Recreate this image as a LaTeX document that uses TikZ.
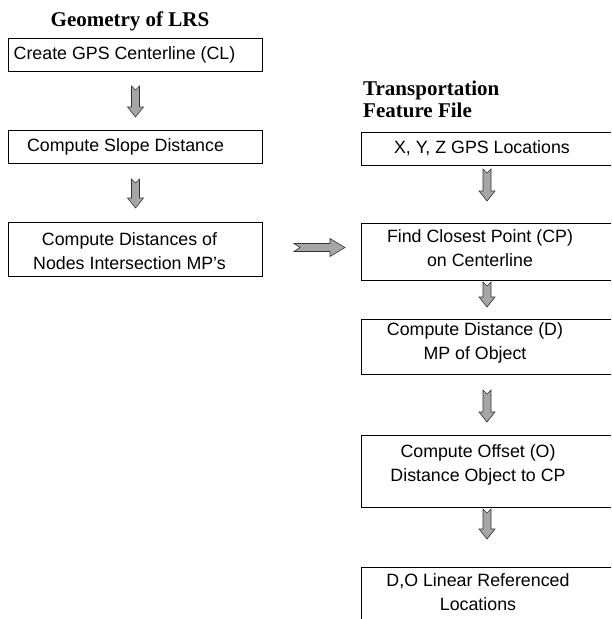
\documentclass[tikz,border=0pt]{standalone}
\usepackage{fontspec}
\setmainfont{Liberation Serif}
\setsansfont{Liberation Sans}
\usetikzlibrary{calc}

% 灰色粗箭头(竖直):从 #1 向下到 #2
\newcommand{\downarr}[2]{%
  \filldraw[blockarr] let \p1=(#1), \p2=(#2) in
    (\x1-4pt,\y1) -- (\x1,\y1-4pt) -- (\x1+4pt,\y1) -- (\x1+4pt,\y2+10pt)
    -- (\x1+8pt,\y2+10pt) -- (\x1,\y2) -- (\x1-8pt,\y2+10pt)
    -- (\x1-4pt,\y2+10pt) -- cycle;
}
% 灰色粗箭头(水平):从 #1 向右到 #2
\newcommand{\rightarr}[2]{%
  \filldraw[blockarr] let \p1=(#1), \p2=(#2) in
    (\x1,\y1+4pt) -- (\x2-15pt,\y1+4pt) -- (\x2-15pt,\y1+9pt) -- (\x2,\y1)
    -- (\x2-15pt,\y1-9pt) -- (\x2-15pt,\y1-4pt) -- (\x1,\y1-4pt)
    -- (\x1+6pt,\y1) -- cycle;
}

\tikzset{
  box/.style={draw, line width=1pt, inner sep=0pt, anchor=north west},
  lbox/.style={box, minimum width=254pt},
  rbox/.style={box, minimum width=280pt},
  txt/.style={font=\sffamily\fontsize{17.8}{24}\selectfont, align=center, inner sep=0pt},
  ttl/.style={font=\bfseries\fontsize{21}{22}\selectfont, align=left, inner sep=0pt},
  blockarr/.style={draw=black!80, line width=0.6pt, fill=black!35}
}

\begin{document}
\begin{tikzpicture}[x=1pt, y=-1pt]  % 以像素为单位,y 向下

    \useasboundingbox (0,0) rectangle (611,619);
    \clip (0,0) rectangle (611,619);

    % 标题
    \node[ttl, anchor=base] (geo) at (130,26) {Geometry of LRS};
    \node[ttl, anchor=north west] (tff) at (363,81) {Transportation\\Feature File};

    % 左列方框
    \node[lbox, minimum height=33pt] (b1) at (8,38) {};
    \node[lbox, minimum height=33pt] (b2) at (8,130) {};
    \node[lbox, minimum height=54pt] (b3) at (8,222) {};

    \node[txt] (t1) at ($(b1.center)+(-11,0)$) {Create GPS Centerline (CL)};
    \node[txt] (t2) at ($(b2.center)+(-10,0)$) {Compute Slope Distance};
    \node[txt] (t3) at ($(b3.center)+(-6,2)$) {Compute Distances of\\Nodes Intersection MP’s};

    % 右列方框(右边超出画面)
    \node[rbox, minimum height=33pt] (r1) at (361,132) {};
    \node[rbox, minimum height=57pt] (r2) at (361,223) {};
    \node[rbox, minimum height=55pt] (r3) at (361,319) {};
    \node[rbox, minimum height=72pt] (r4) at (361,435) {};
    \node[rbox, minimum height=80pt] (r5) at (361,567) {};

    \node[txt] (s1) at ($(r1.north west)+(121,16)$) {X, Y, Z GPS Locations};
    \node[txt] (s2) at ($(r2.north west)+(119,25)$) {Find Closest Point (CP)\\on Centerline};
    \node[txt] (s3) at ($(r3.north west)+(114,24)$) {Compute Distance (D)\\MP of Object};
    \node[txt] (s4) at ($(r4.north west)+(117,30)$) {Compute Offset (O)\\Distance Object to CP};
    \node[txt] (s5) at ($(r5.north west)+(117,25)$) {D,O Linear Referenced\\Locations};

    % 箭头
    \downarr{$(b1.south)+(0,14)$}{$(b2.north)+(0,-13)$}
    \downarr{$(b2.south)+(0,15)$}{$(b3.north)+(0,-14)$}
    \rightarr{$(b3.east)+(31,-2)$}{$(r2.west)+(-16,0)$}
    \downarr{$(r1.south west)+(126,3)$}{$(r2.north west)+(126,-22)$}
    \downarr{$(r2.south west)+(126,1)$}{$(r3.north west)+(126,-12)$}
    \downarr{$(r3.south west)+(126,15)$}{$(r4.north west)+(126,-13)$}
    \downarr{$(r4.south west)+(126,1)$}{$(r5.north west)+(126,-28)$}

\end{tikzpicture}
\end{document}
